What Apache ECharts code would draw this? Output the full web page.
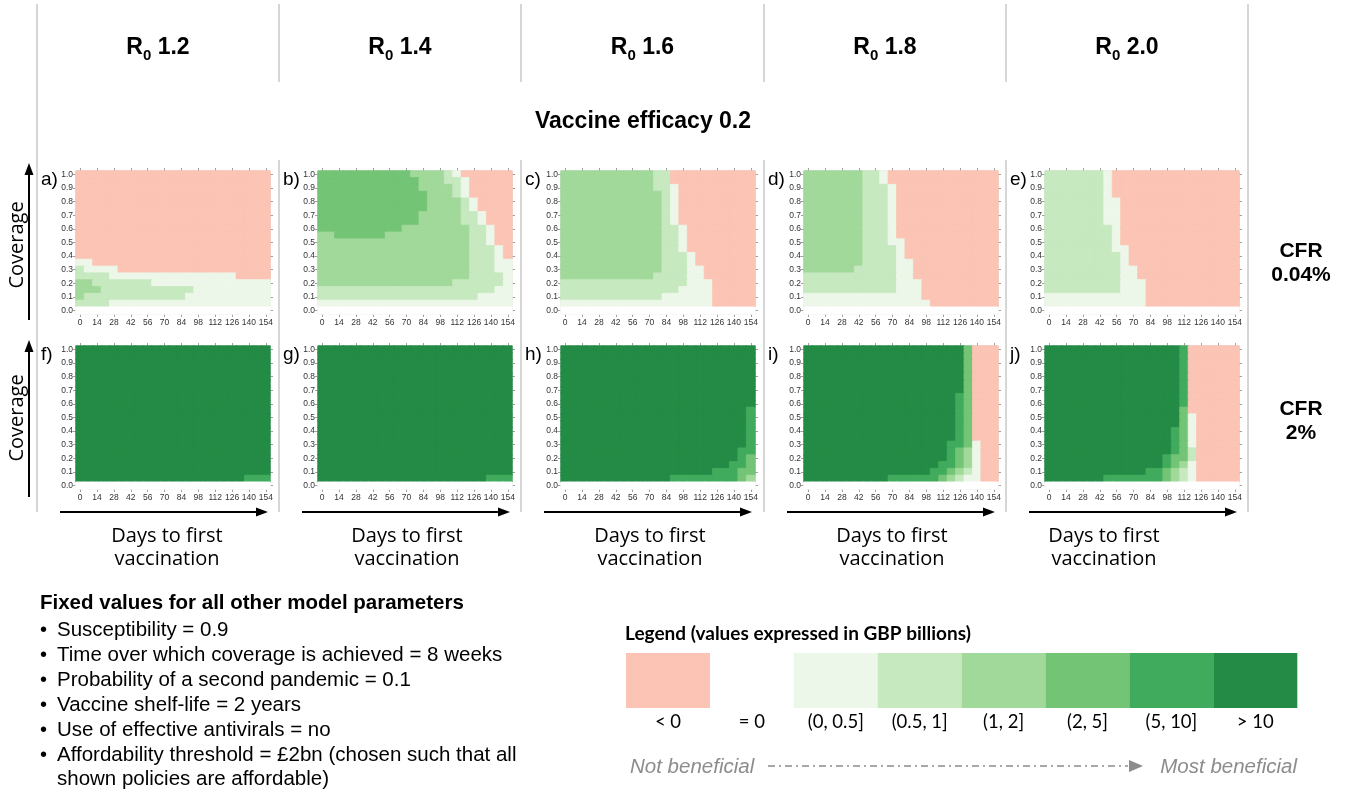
<!DOCTYPE html>
<html>
<head>
<meta charset="utf-8">
<script src="https://cdn.jsdelivr.net/npm/echarts@6/dist/echarts.min.js"></script>
<style>
  html, body { margin: 0; padding: 0; background: #ffffff; }
  #chart { width: 1354px; height: 801px; }
</style>
</head>
<body>
<div id="chart"></div>
<script>
// ---- Axis categories ----
const days = ['0','7','14','21','28','35','42','49','56','63','70','77','84','91','98','105','112','119','126','133','140','147','154'];
const coverage = ['0.00','0.05','0.10','0.15','0.20','0.25','0.30','0.35','0.40','0.45','0.50','0.55','0.60','0.65','0.70','0.75','0.80','0.85','0.90','0.95','1.00'];

// ---- Scenario labels ----
const r0Values = ['1.2', '1.4', '1.6', '1.8', '2.0'];
const efficacyTitle = 'Vaccine efficacy 0.2';
const cfrLabels = [['CFR', '0.04%'], ['CFR', '2%']];
const panelLetters = ['a)', 'b)', 'c)', 'd)', 'e)', 'f)', 'g)', 'h)', 'i)', 'j)'];

// ---- Net benefit classes (GBP billions) ----
// class codes: n = < 0, 0 = exactly 0, 1..6 = increasing positive bands
const classCodes = ['n', '0', '1', '2', '3', '4', '5', '6'];
const classLabels = ['< 0', '= 0', '(0, 0.5]', '(0.5, 1]', '(1, 2]', '(2, 5]', '(5, 10]', '> 10'];
const classColors = ['#fbc4b4', '#ffffff', '#edf7e9', '#c7e9c0', '#a1d99b', '#74c476', '#41ab5d', '#238b45'];

// Rows run from coverage 1.00 (first) down to 0.00 (last).
// Each row lists "class:count" runs across days 0..154.
const benefitA = [
  'n:23', 'n:23', 'n:23', 'n:23', 'n:23', 'n:23', 'n:23', 'n:23', 'n:23', 'n:23', 'n:23', 'n:23', 'n:23',
  '1:2 n:21',
  '2:1 1:4 n:18',
  '2:4 1:15 n:4',
  '3:2 2:7 1:14',
  '3:3 2:11 1:9',
  '3:1 2:12 1:10',
  '2:4 1:19',
  '0:23'
];
const benefitB = [
  '4:11 3:4 2:1 1:1 n:6',
  '4:12 3:3 2:2 1:1 n:5',
  '4:12 3:4 2:1 1:1 n:5',
  '4:13 3:3 2:1 1:1 n:5',
  '4:13 3:4 2:1 1:1 n:4',
  '4:13 3:4 2:1 1:1 n:4',
  '4:12 3:5 2:2 1:1 n:3',
  '4:12 3:5 2:2 1:1 n:3',
  '4:10 3:8 2:2 1:1 n:2',
  '3:2 4:6 3:10 2:2 1:1 n:2',
  '3:18 2:2 1:1 n:2',
  '3:18 2:3 1:1 n:1',
  '3:18 2:3 1:1 n:1',
  '3:18 2:3 1:2',
  '3:18 2:3 1:2',
  '3:18 2:4 1:1',
  '3:16 2:6 1:1',
  '2:21 1:2',
  '2:19 1:4',
  '1:23',
  '0:23'
];
const benefitC = [
  '3:11 2:2 n:10',
  '3:11 2:2 n:10',
  '3:11 2:2 1:1 n:9',
  '3:12 2:1 1:1 n:9',
  '3:12 2:1 1:1 n:9',
  '3:12 2:1 1:1 n:9',
  '3:12 2:1 1:1 n:9',
  '3:12 2:1 1:1 n:9',
  '3:12 2:2 1:1 n:8',
  '3:12 2:2 1:1 n:8',
  '3:12 2:2 1:1 n:8',
  '3:12 2:2 1:1 n:8',
  '3:12 2:3 1:1 n:7',
  '3:12 2:3 1:1 n:7',
  '3:12 2:3 1:2 n:6',
  '3:11 2:4 1:2 n:6',
  '2:15 1:3 n:5',
  '2:14 1:4 n:5',
  '2:12 1:6 n:5',
  '1:18 n:5',
  '0:23'
];
const benefitD = [
  '3:7 2:2 1:1 n:13',
  '3:7 2:2 1:1 n:13',
  '3:7 2:3 1:1 n:12',
  '3:7 2:3 1:1 n:12',
  '3:7 2:3 1:1 n:12',
  '3:7 2:3 1:1 n:12',
  '3:7 2:3 1:1 n:12',
  '3:7 2:3 1:1 n:12',
  '3:7 2:3 1:1 n:12',
  '3:7 2:3 1:1 n:12',
  '3:7 2:3 1:2 n:11',
  '3:7 2:4 1:1 n:11',
  '3:7 2:4 1:1 n:11',
  '3:7 2:4 1:2 n:10',
  '3:6 2:5 1:2 n:10',
  '2:11 1:2 n:10',
  '2:11 1:3 n:9',
  '2:11 1:3 n:9',
  '1:14 n:9',
  '1:15 n:8',
  '0:23'
];
const benefitE = [
  '2:7 1:1 n:15',
  '2:7 1:1 n:15',
  '2:7 1:1 n:15',
  '2:7 1:1 n:15',
  '2:7 1:2 n:14',
  '2:7 1:2 n:14',
  '2:7 1:2 n:14',
  '2:7 1:2 n:14',
  '2:8 1:1 n:14',
  '2:8 1:1 n:14',
  '2:8 1:1 n:14',
  '2:8 1:2 n:13',
  '2:9 1:1 n:13',
  '2:9 1:1 n:13',
  '2:9 1:2 n:12',
  '2:9 1:2 n:12',
  '2:9 1:3 n:11',
  '2:9 1:3 n:11',
  '1:12 n:11',
  '1:12 n:11',
  '0:23'
];
const benefitF = [
  '6:23', '6:23', '6:23', '6:23', '6:23', '6:23', '6:23', '6:23', '6:23', '6:23',
  '6:23', '6:23', '6:23', '6:23', '6:23', '6:23', '6:23', '6:23', '6:23',
  '6:20 5:3',
  '0:23'
];
const benefitG = [
  '6:23', '6:23', '6:23', '6:23', '6:23', '6:23', '6:23', '6:23', '6:23', '6:23',
  '6:23', '6:23', '6:23', '6:23', '6:23', '6:23', '6:23', '6:23', '6:23',
  '6:20 5:3',
  '0:23'
];
const benefitH = [
  '6:23', '6:23', '6:23', '6:23', '6:23', '6:23', '6:23', '6:23', '6:23',
  '6:22 5:1', '6:22 5:1', '6:22 5:1', '6:22 5:1', '6:22 5:1', '6:22 5:1',
  '6:21 5:2',
  '6:21 5:1 4:1',
  '6:20 5:2 4:1',
  '6:18 5:3 4:2',
  '6:13 5:8 4:1 3:1',
  '0:23'
];
const benefitI = [
  '6:19 4:1 n:3', '6:19 4:1 n:3', '6:19 4:1 n:3', '6:19 4:1 n:3', '6:19 4:1 n:3', '6:19 4:1 n:3', '6:19 4:1 n:3',
  '6:18 5:1 4:1 n:3', '6:18 5:1 4:1 n:3', '6:18 5:1 4:1 n:3', '6:18 5:1 4:1 n:3', '6:18 5:1 4:1 n:3', '6:18 5:1 4:1 n:3', '6:18 5:1 4:1 n:3',
  '6:17 5:2 4:1 1:1 n:2',
  '6:17 5:1 4:1 3:1 1:1 n:2',
  '6:17 5:1 4:1 3:1 1:1 n:2',
  '6:16 5:2 4:1 3:1 1:1 n:2',
  '6:15 5:2 4:1 3:1 2:1 1:1 n:2',
  '6:10 5:6 4:1 3:1 2:1 1:2 n:2',
  '0:23'
];
const benefitJ = [
  '6:16 5:1 n:6', '6:16 5:1 n:6', '6:16 5:1 n:6', '6:16 5:1 n:6', '6:16 5:1 n:6',
  '6:16 5:1 n:6', '6:16 5:1 n:6', '6:16 5:1 n:6', '6:16 5:1 n:6',
  '6:16 4:1 n:6',
  '6:16 4:1 1:1 n:5',
  '6:16 4:1 1:1 n:5',
  '6:15 5:1 4:1 1:1 n:5',
  '6:15 5:1 4:1 1:1 n:5',
  '6:15 5:1 4:1 1:1 n:5',
  '6:15 5:1 4:1 2:1 n:5',
  '6:14 5:1 4:2 2:1 n:5',
  '6:14 5:1 4:1 3:1 1:1 n:5',
  '6:12 5:2 4:1 3:1 2:1 1:1 n:5',
  '6:7 5:7 4:1 3:1 2:1 1:1 n:5',
  '0:23'
];
const panels = [benefitA, benefitB, benefitC, benefitD, benefitE, benefitF, benefitG, benefitH, benefitI, benefitJ];

// ---- Notes ----
const notesTitle = 'Fixed values for all other model parameters';
const notes = [
  'Susceptibility = 0.9',
  'Time over which coverage is achieved = 8 weeks',
  'Probability of a second pandemic = 0.1',
  'Vaccine shelf-life = 2 years',
  'Use of effective antivirals = no',
  'Affordability threshold = \u00a32bn (chosen such that all',
  'shown policies are affordable)'
];
const legendTitle = 'Legend (values expressed in GBP billions)';
const scaleEnds = ['Not beneficial', 'Most beneficial'];

// ---- Build the option ----
const ARIAL = '"Liberation Sans", Arial, sans-serif';
const SOFT = '"Open Sans", Lato, sans-serif';
const LEG = 'Lato, "Open Sans", sans-serif';

function expandRow(spec) {
  const out = [];
  spec.trim().split(/\s+/).forEach(part => {
    const [k, n] = part.split(':');
    const code = classCodes.indexOf(k) - 1; // n -> -1, 0 -> 0, 1..6 -> 1..6
    for (let i = 0; i < Number(n); i++) out.push(code);
  });
  if (out.length !== days.length) console.warn('row length', spec, out.length);
  return out;
}

const colSep = [37, 279, 521, 764, 1006, 1248];
const plotLeft = [76, 318, 561, 804, 1045];
const plotTop = [171, 346];
const plotW = 194, plotH = 143;

const grids = [], xAxes = [], xAxesTop = [], yAxes = [], yAxesRight = [], series = [];
const tickStyle = { show: true, interval: 1, alignWithLabel: true, length: 3, lineStyle: { color: '#a0a0a0', width: 1 } };

panels.forEach((rows, p) => {
  const col = p % 5, row = Math.floor(p / 5);
  grids.push({
    left: plotLeft[col], top: plotTop[row], width: plotW, height: plotH,
    show: true, borderColor: '#d0d0d0', borderWidth: 1, backgroundColor: '#ffffff'
  });
  xAxes.push({
    type: 'category', gridIndex: p, data: days, position: 'bottom',
    axisLine: { show: false }, axisTick: tickStyle, splitLine: { show: false },
    axisLabel: { interval: 1, fontSize: 8.5, color: '#333333', margin: 4, fontFamily: ARIAL }
  });
  xAxesTop.push({
    type: 'category', gridIndex: p, data: days, position: 'top',
    axisLine: { show: false }, axisTick: tickStyle, axisLabel: { show: false }, splitLine: { show: false }
  });
  yAxes.push({
    type: 'category', gridIndex: p, data: coverage, position: 'left',
    axisLine: { show: false }, axisTick: tickStyle, splitLine: { show: false },
    axisLabel: { interval: 1, fontSize: 8.5, color: '#333333', margin: 3, fontFamily: ARIAL,
      formatter: v => Number(v).toFixed(1) }
  });
  yAxesRight.push({
    type: 'category', gridIndex: p, data: coverage, position: 'right',
    axisLine: { show: false }, axisTick: tickStyle, axisLabel: { show: false }, splitLine: { show: false }
  });
  const data = [];
  rows.forEach((spec, r) => {
    const yIdx = coverage.length - 1 - r;
    expandRow(spec).forEach((code, c) => data.push({
      value: [c, yIdx, code],
      // a hairline border in the cell's own colour closes the seams between cells
      itemStyle: { borderColor: classColors[code + 1], borderWidth: 0.8 }
    }));
  });
  series.push({
    type: 'heatmap', xAxisIndex: p, yAxisIndex: p, data,
    emphasis: { disabled: true }, silent: true
  });
});

// ---- Decorations ----
const g = [];
function text(x, y, s, font, opts = {}) {
  const align = opts.align || 'left';
  g.push({
    type: 'text', x, y, rotation: opts.rotation || 0, silent: true,
    style: { text: s, font, fill: opts.fill || '#000000', align, textAlign: align,
      verticalAlign: 'middle', textVerticalAlign: 'middle', rich: opts.rich }
  });
}
function line(x1, y1, x2, y2, stroke, width, dash) {
  g.push({ type: 'line', silent: true, shape: { x1, y1, x2, y2 },
    style: { stroke, lineWidth: width, lineDash: dash || null } });
}
function tri(points, fill) {
  g.push({ type: 'polygon', silent: true, shape: { points }, style: { fill } });
}

// column separators
colSep.forEach((x, i) => {
  if (i === 0 || i === colSep.length - 1) {
    line(x, 4, x, 512, '#c8c8c8', 1.5);
  } else {
    line(x, 4, x, 82, '#c8c8c8', 1.5);
    line(x, 160, x, 512, '#c8c8c8', 1.5);
  }
});

// R0 headers
r0Values.forEach((v, i) => {
  const cx = (colSep[i] + colSep[i + 1]) / 2;
  text(cx, 48, '{r|R}{s|0}{r| ' + v + '}', 'bold 22px ' + ARIAL, {
    align: 'center',
    rich: {
      r: { fontSize: 23, fontWeight: 'bold', fontFamily: ARIAL, lineHeight: 30, verticalAlign: 'middle', fill: '#000' },
      s: { fontSize: 15, fontWeight: 'bold', fontFamily: ARIAL, lineHeight: 15, verticalAlign: 'bottom', fill: '#000' }
    }
  });
});
text(643, 122, efficacyTitle, 'bold 23px ' + ARIAL, { align: 'center' });

// panel letters
panelLetters.forEach((s, p) => {
  const col = p % 5, row = Math.floor(p / 5);
  text(colSep[col] + 4, row === 0 ? 180 : 355, s, '19px ' + ARIAL);
});

// coverage arrows
[[320, 163, 245], [497, 340, 418]].forEach(([yb, yt, yc]) => {
  line(29, yb, 29, yt + 10, '#000', 2);
  tri([[29, yt], [24.5, yt + 12], [33.5, yt + 12]], '#000');
  text(17, yc, 'Coverage', '20px ' + SOFT, { align: 'center', rotation: Math.PI / 2 });
});

// CFR labels
cfrLabels.forEach((pair, row) => {
  const y0 = row === 0 ? 251 : 409;
  text(1301, y0, pair[0], 'bold 21px ' + ARIAL, { align: 'center' });
  text(1301, y0 + 24, pair[1], 'bold 21px ' + ARIAL, { align: 'center' });
});

// days arrows
const daysTextX = [167, 407, 650, 892, 1104];
[0, 1, 2, 3, 4].forEach(i => {
  const x0 = colSep[i] + 23, x1 = colSep[i] + 231;
  line(x0, 512, x1 - 10, 512, '#000', 2);
  tri([[x1, 512], [x1 - 12, 507.5], [x1 - 12, 516.5]], '#000');
  text(daysTextX[i], 536, 'Days to first', '20px ' + SOFT, { align: 'center' });
  text(daysTextX[i], 559, 'vaccination', '20px ' + SOFT, { align: 'center' });
});

// fixed parameter notes
text(40, 603, notesTitle, 'bold 20.5px ' + ARIAL);
notes.forEach((s, i) => {
  const y = 630 + 25 * i - (i === notes.length - 1 ? 1 : 0);
  if (i < notes.length - 1) text(40, y, '\u2022', '20px ' + ARIAL);
  text(57, y, s, '20.5px ' + ARIAL);
});

// legend
text(625, 634, legendTitle, 'bold 19px ' + LEG);
classLabels.forEach((lab, i) => {
  const x = 626 + 83.9 * i;
  if (classCodes[i] !== '0') {
    g.push({ type: 'rect', silent: true, shape: { x, y: 653, width: 84, height: 55 }, style: { fill: classColors[i] } });
  }
  text(x + 42, 722, lab, '18.5px ' + LEG, { align: 'center' });
});
text(630, 767, scaleEnds[0], 'italic 20.5px ' + ARIAL, { fill: '#8c8c8c' });
text(1297, 767, scaleEnds[1], 'italic 20.5px ' + ARIAL, { fill: '#8c8c8c', align: 'right' });
line(768, 766, 1128, 766, '#8c8c8c', 1.5, [7, 4, 2, 4]);
tri([[1143, 766], [1129, 760], [1129, 772]], '#8c8c8c');

const option = {
  backgroundColor: '#ffffff',
  animation: false,
  grid: grids,
  xAxis: xAxes.concat(xAxesTop),
  yAxis: yAxes.concat(yAxesRight),
  visualMap: {
    type: 'piecewise', show: false, dimension: 2,
    seriesIndex: series.map((s, i) => i),
    pieces: classCodes.map((k, i) => ({ value: i - 1, color: classColors[i] }))
  },
  series,
  graphic: { elements: g }
};

const chart = echarts.init(document.getElementById('chart'), null, { renderer: 'canvas' });
chart.setOption(option);
</script>
</body>
</html>
